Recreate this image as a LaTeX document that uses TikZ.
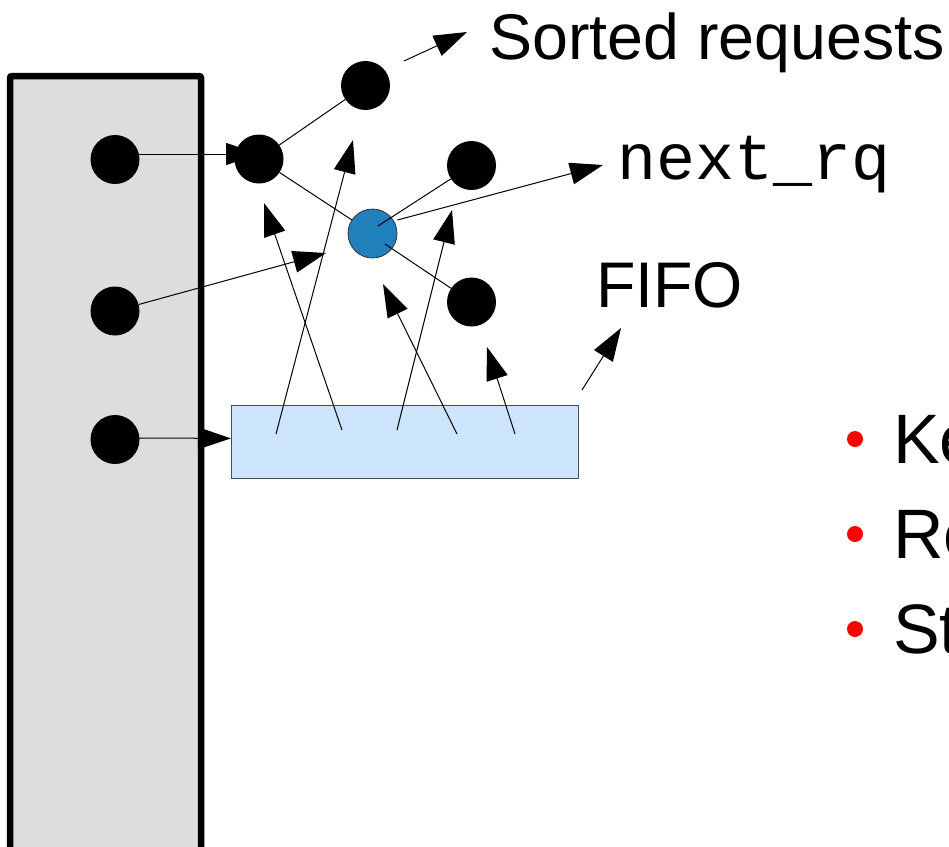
\documentclass[tikz,border=0pt]{standalone}
\usepackage{fontspec}
\setmainfont{Liberation Sans}
\newfontfamily\codefont{Liberation Mono}
\usetikzlibrary{arrows.meta}
\definecolor{panelgray}{RGB}{221,221,221}
\definecolor{fifoblue}{RGB}{204,229,252}
\definecolor{qblue}{RGB}{31,128,188}
\begin{document}
\begin{tikzpicture}[x=1pt,y=-1pt,
  dot/.style={circle,fill=black,minimum size=49pt,inner sep=0pt},
  qdot/.style={dot,fill=qblue,draw=black!80,line width=0.8pt},
  link/.style={line width=1pt},
  arr/.style={line width=1pt,-{Triangle[length=33pt,width=22pt]}},
  txt/.style={inner sep=0pt,anchor=base west,font=\fontsize{64.5}{64.5}\selectfont},
  codetxt/.style={inner sep=0pt,anchor=base west,font=\codefont\fontsize{65}{65}\selectfont},
  itemtxt/.style={inner sep=0pt,anchor=base west,font=\fontsize{70}{70}\selectfont},
  bullet/.style={circle,fill=red,minimum size=16pt,inner sep=0pt}]
\useasboundingbox (0,0) rectangle (949,846);
\clip (0,0) rectangle (949,846);

% request panel on the left
\draw[line width=6.5pt,fill=panelgray,rounded corners=2pt] (10,76) rectangle (201,900);
\node[dot] (L1) at (115,159.5) {};
\node[dot] (L2) at (115,311) {};
\node[dot] (L3) at (115,439.5) {};

% FIFO queue
\node[draw=black!70,line width=0.8pt,fill=fifoblue,minimum width=347pt,minimum height=73pt,
      inner sep=0pt,anchor=north west] (fifo) at (231,405) {};

% free ends of the arrows
\coordinate (a1) at (259,154);
\coordinate (t2) at (326,253);
\coordinate (s1) at (276,434);  \coordinate (t1) at (353,140);
\coordinate (s2) at (342,430);  \coordinate (t3) at (264,203);
\coordinate (s3) at (397,430);  \coordinate (t4) at (452,210);
\coordinate (s4) at (457,434);  \coordinate (t5) at (383,284);
\coordinate (s5) at (515,434);  \coordinate (t6) at (487,347);
\coordinate (sf) at (582,390);  \coordinate (tf) at (621,328);
\coordinate (ss) at (404,61);   \coordinate (ts) at (467,32);
\coordinate (tn) at (603,165);

% insertion arrows from the panel (drawn before the tree nodes)
\draw[arr] ([shift={(24,-5.5)}]L1.center) -- (a1);
\draw[arr] (L2) -- (t2);
\draw[arr] ([shift={(24,-1.5)}]L3.center) -- ([yshift=3.5pt]fifo.west);

% sorted tree
\node[dot] (A) at (259,159) {};
\node[dot] (B) at (365.5,85.5) {};
\node[dot] (C) at (471.5,165.5) {};
\node[qdot] (D) at (372.5,233.5) {};
\node[dot] (E) at (471.5,302) {};

\draw[link] (A) -- (B);
\draw[link] (A) -- (D);
\draw[link] ([shift={(5.5,-7.5)}]D.center) -- (C);
\draw[link] ([shift={(12.5,10.5)}]D.center) -- (E);
\draw[arr] ([shift={(25,-13.5)}]D.center) -- (tn);

% dispatch arrows from the FIFO
\draw[arr] (s1) -- (t1);
\draw[arr] (s2) -- (t3);
\draw[arr] (s3) -- (t4);
\draw[arr] (s4) -- (t5);
\draw[arr] (s5) -- (t6);
\draw[arr] (sf) -- (tf);
\draw[arr] (ss) -- (ts);

% labels
\node[txt] (sorted) at (489,59) {Sorted requests};
\node[codetxt] (nextrq) at (617,179) {next\_rq};
\node[txt] (fifolbl) at (596,307) {FIFO};

% bullet list
\node[bullet] (b1) at (855,439) {};
\node[bullet] (b2) at (855,534) {};
\node[bullet] (b3) at (855,629) {};
\node[itemtxt] (k1) at (893,463) {Ke};
\node[itemtxt] (k2) at (893,558) {Re};
\node[itemtxt] (k3) at (893,653) {St};
\end{tikzpicture}
\end{document}
